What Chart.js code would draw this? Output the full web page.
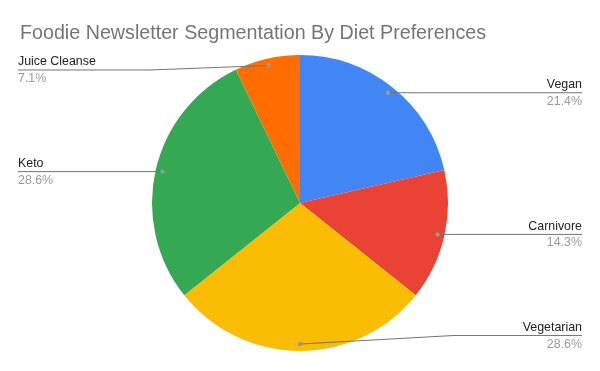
<!DOCTYPE html>
<html>
<head>
<meta charset="utf-8">
<script src="https://cdn.jsdelivr.net/npm/chart.js@4/dist/chart.umd.min.js"></script>
<style>
html,body{margin:0;padding:0;background:#fff;}
#wrap{width:600px;height:371px;position:relative;}
</style>
</head>
<body>
<div id="wrap"><canvas id="c" width="600" height="371"></canvas></div>
<script>
const chartTitle = "Foodie Newsletter Segmentation By Diet Preferences";
const categories = ["Vegan", "Carnivore", "Vegetarian", "Keto", "Juice Cleanse"];
const values = [3, 2, 4, 4, 1];
const sliceColors = ["#4285F4", "#EA4335", "#FBBC04", "#34A853", "#FF6D01"];

// label line vertical nudges (px) to mimic the reference's label placement
const labelNudge = [0, 0, -8.5, 0, 4.5];

const leaderPlugin = {
  id: 'leaders',
  afterDraw(chart) {
    const ctx = chart.ctx;
    const meta = chart.getDatasetMeta(0);
    const total = values.reduce((a, b) => a + b, 0);
    ctx.save();
    // title
    ctx.font = '19.7px "Liberation Sans", Arial, sans-serif';
    ctx.fillStyle = '#757575';
    ctx.textAlign = 'left';
    ctx.textBaseline = 'alphabetic';
    ctx.fillText(chartTitle, 20, 39);

    meta.data.forEach((arc, i) => {
      const p = arc.getProps(['x', 'y', 'startAngle', 'endAngle', 'outerRadius'], true);
      const mid = (p.startAngle + p.endAngle) / 2;
      const rd = p.outerRadius * 0.953;
      const dx = p.x + Math.cos(mid) * rd;
      const dy = p.y + Math.sin(mid) * rd;
      const right = Math.cos(mid) >= 0;
      const ly = dy + labelNudge[i];
      const endX = right ? 582 : 18;
      const elbowX = right ? p.x + p.outerRadius + 5 : p.x - p.outerRadius - 2;

      ctx.strokeStyle = '#737373';
      ctx.lineWidth = 1;
      ctx.beginPath();
      ctx.moveTo(dx, dy);
      if (Math.abs(labelNudge[i]) > 0.5) {
        ctx.lineTo(elbowX, ly);
      }
      ctx.lineTo(endX, ly);
      ctx.stroke();

      ctx.fillStyle = '#999999';
      ctx.beginPath();
      ctx.arc(dx, dy, 2.2, 0, Math.PI * 2);
      ctx.fill();

      ctx.textAlign = right ? 'right' : 'left';
      ctx.font = '12.4px "Liberation Sans", Arial, sans-serif';
      ctx.fillStyle = '#222222';
      ctx.fillText(categories[i], endX, ly - 4.5);
      ctx.fillStyle = '#999999';
      const pct = (values[i] / total * 100).toFixed(1) + '%';
      ctx.fillText(pct, endX, ly + 12);
    });
    ctx.restore();
  }
};

new Chart(document.getElementById('c'), {
  type: 'pie',
  data: {
    labels: categories,
    datasets: [{
      data: values,
      backgroundColor: sliceColors,
      borderWidth: 0
    }]
  },
  options: {
    responsive: false,
    animation: false,
    layout: { padding: { top: 55, bottom: 20, left: 0, right: 0 } },
    plugins: {
      legend: { display: false },
      tooltip: { enabled: false },
      title: { display: false }
    }
  },
  plugins: [leaderPlugin]
});
</script>
</body>
</html>
